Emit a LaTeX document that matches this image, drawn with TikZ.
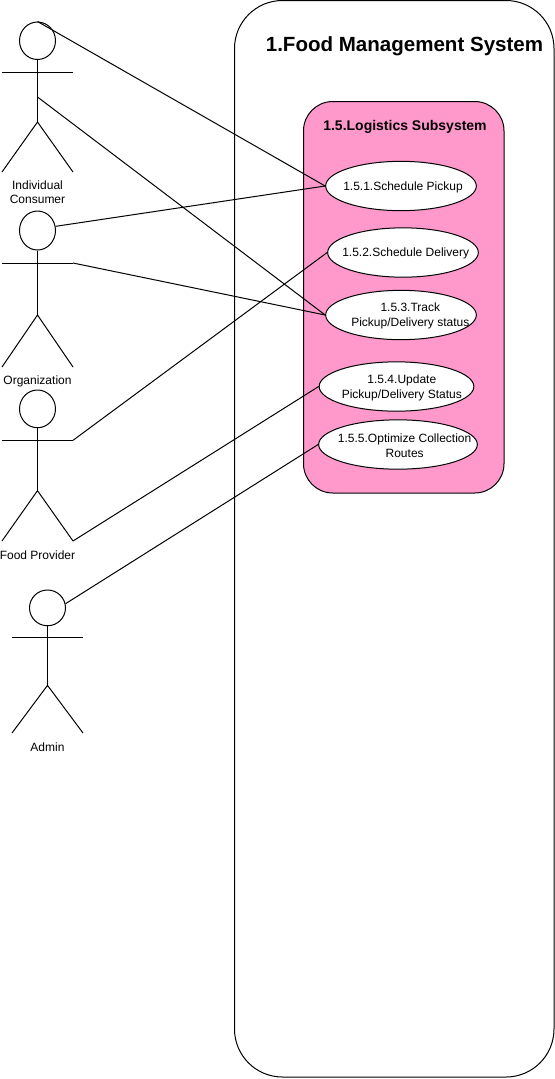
\documentclass[tikz,border=0pt]{standalone}
\usepackage{xcolor}
\usepackage{fontspec}
\setmainfont{Liberation Sans}
\usetikzlibrary{shapes.geometric, positioning}

\definecolor{subpink}{HTML}{FF99CC}

\tikzset{
    head/.style={ellipse, draw, inner sep=0pt, minimum width=27pt},
    usecase/.style={ellipse, draw, fill=white, inner sep=0pt, minimum width=113pt, minimum height=37pt},
    casetext/.style={align=center, font=\fontsize{9}{11.25}\selectfont, inner sep=0pt},
    actorlabel/.style={align=center, font=\fontsize{9}{10.5}\selectfont, inner sep=0pt}
}

% name, x, top, height of the figure
\newcommand{\actor}[4]{
    \pgfmathsetmacro{\headh}{#4/4*0.75}
    \node[head, minimum height=\headh pt] (#1head) at (#2,#3+#4/8) {};
    \coordinate (#1arml) at (#2-35.5,#3+#4/3);
    \coordinate (#1armr) at (#2+35.5,#3+#4/3);
    \coordinate (#1mid) at (#2,#3+#4*0.5);
    \coordinate (#1hip) at (#2,#3+#4*2/3);
    \coordinate (#1footl) at (#2-35.5,#3+#4);
    \coordinate (#1footr) at (#2+35.5,#3+#4);
    \draw (#1head.south) -- (#1hip);
    \draw (#1arml) -- (#1armr);
    \draw (#1footl) -- (#1hip) -- (#1footr);
}

\begin{document}
\begin{tikzpicture}[x=0.75pt, y=-0.75pt, line width=0.75pt]
    \useasboundingbox (0,0) rectangle (555,1079);

    % boxes
    \draw[rounded corners=36pt] (234.5,0.5) rectangle (554,1077);
    \draw[fill=subpink, rounded corners=22pt] (303.5,101.5) rectangle (504,493);
    \node[inner sep=0pt, font=\bfseries\fontsize{15.4}{18}\selectfont] (systitle) at (404.5,46.5) {1.Food Management System};
    \node[inner sep=0pt, font=\bfseries\fontsize{10.5}{12}\selectfont] (subtitle) at (405,127) {1.5.Logistics Subsystem};

    % actors
    \actor{cons}{37.5}{22}{150}
    \actor{org}{37.5}{211}{156}
    \actor{prov}{37.5}{390}{151}
    \actor{admin}{47.5}{590}{143}
    \node[actorlabel] (conslabel) at (37.5,192.5) {Individual\\Consumer};
    \node[actorlabel] (orglabel) at (37.5,381) {Organization};
    \node[actorlabel] (provlabel) at (37.5,555) {Food Provider};
    \node[actorlabel] (adminlabel) at (47.5,747) {Admin};

    % use cases
    \node[usecase] (pickup) at (401,186) {};
    \node[usecase] (delivery) at (403,252.5) {};
    \node[usecase] (track) at (401,315) {};
    \node[usecase, minimum width=116pt] (update) at (396.5,386.5) {};
    \node[usecase, minimum width=119pt] (routes) at (398,444.5) {};
    \node[casetext] (pickuptext) at ([shift={(1.5pt,-0.75pt)}]pickup.center) {1.5.1.Schedule Pickup};
    \node[casetext] (deliverytext) at ([shift={(2pt,-0.75pt)}]delivery.center) {1.5.2.Schedule Delivery};
    \node[casetext] (tracktext) at ([shift={(7pt,-0.75pt)}]track.center) {1.5.3.Track\\Pickup/Delivery status};
    \node[casetext] (updatetext) at ([shift={(4pt,-0.75pt)}]update.center) {1.5.4.Update\\Pickup/Delivery Status};
    \node[casetext] (routestext) at ([shift={(5pt,-0.75pt)}]routes.center) {1.5.5.Optimize Collection\\Routes};

    % links
    \draw (conshead.north) -- (pickup.west);
    \draw (consmid) -- (track.west);
    \draw (orghead.13) -- (pickup.west);
    \draw (orgarmr) -- (track.west);
    \draw (provarmr) -- (delivery.west);
    \draw (provfootr) -- (update.west);
    \draw (adminhead.13) -- (routes.west);
\end{tikzpicture}
\end{document}
